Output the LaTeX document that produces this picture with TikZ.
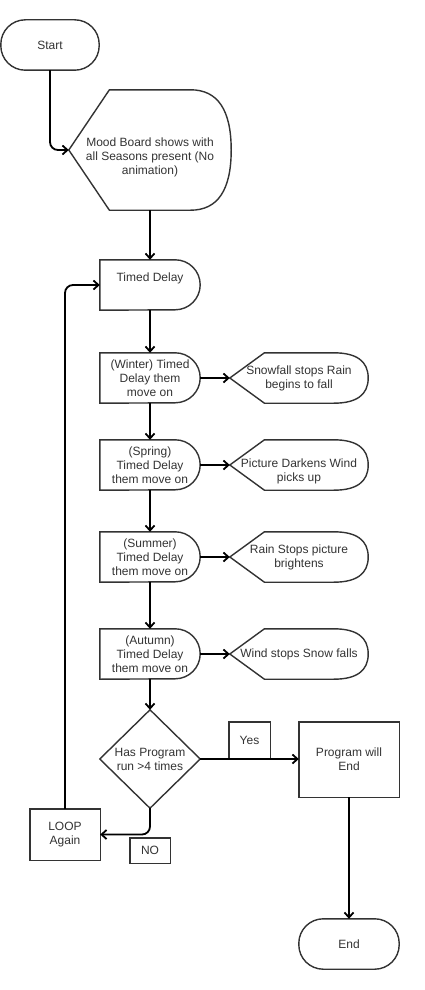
\documentclass[tikz,border=0pt]{standalone}
\usepackage{fontspec}
\setmainfont{Liberation Sans}
\usetikzlibrary{arrows.meta,calc}
\definecolor{ink}{HTML}{333333}
\tikzset{
  box/.style={rectangle,draw=none,inner sep=0pt,align=center,text=ink,font=\fontsize{12}{14}\selectfont},
  outl/.style={draw=ink,line width=1.4pt},
  conn/.style={draw=black,line width=1.8pt,-{Straight Barb[length=5pt,width=9pt]},rounded corners=8pt},
}
\newcommand\fcdelay[1]{\draw[outl] (#1.north west) -- ([xshift=-25pt]#1.north east) arc[start angle=90,end angle=-90,radius=25pt] -- (#1.south west) -- cycle;}
\newcommand\fcdisplay[1]{\draw[outl] (#1.west) -- ($(#1.north west)!0.25!(#1.north east)$) -- ($(#1.north west)!0.75!(#1.north east)$)
  .. controls ($(#1.north west)!0.9167!(#1.north east)$) and ($(#1.north east)!0.3333!(#1.east)$) .. (#1.east)
  .. controls ($(#1.south east)!0.3333!(#1.east)$) and ($(#1.south west)!0.9167!(#1.south east)$) .. ($(#1.south west)!0.75!(#1.south east)$)
  -- ($(#1.south west)!0.25!(#1.south east)$) -- cycle;}
\newcommand\fcterm[1]{\draw[outl,rounded corners=24.5pt] (#1.north west) rectangle (#1.south east);}
\newcommand\fcrect[1]{\draw[outl] (#1.north west) rectangle (#1.south east);}
\begin{document}
\begin{tikzpicture}[x=1pt,y=-1pt]
\useasboundingbox (0,0) rectangle (425,990);
% nodes
\node[box,minimum width=98pt,minimum height=50pt] (start) at (50,45) {Start};
\node[box,minimum width=162pt,minimum height=120pt,label={[box,yshift=-7pt]center:{Mood Board shows with\\all Seasons present (No\\animation)}}] (mood) at (150,150) {};
\node[box,minimum width=100pt,minimum height=50pt,label={[box,yshift=7pt]center:Timed Delay}] (td) at (150,285) {};
\node[box,minimum width=100pt,minimum height=50pt] (winter) at (150,378) {(Winter) Timed\\Delay them\\move on};
\node[box,minimum width=138pt,minimum height=50pt] (snow) at (299,378) {Snowfall stops Rain\\begins to fall};
\node[box,minimum width=100pt,minimum height=50pt] (spring) at (150,465) {(Spring)\\Timed Delay\\them move on};
\node[box,minimum width=138pt,minimum height=50pt,label={[box,yshift=-6pt]center:{Picture Darkens Wind\\picks up}}] (dark) at (299,465) {};
\node[box,minimum width=100pt,minimum height=50pt] (summer) at (150,557) {(Summer)\\Timed Delay\\them move on};
\node[box,minimum width=138pt,minimum height=50pt] (rain) at (299,557) {Rain Stops picture\\brightens};
\node[box,minimum width=100pt,minimum height=50pt] (autumn) at (150,654) {(Autumn)\\Timed Delay\\them move on};
\node[box,minimum width=138pt,minimum height=50pt] (wind) at (299,654) {Wind stops Snow falls};
\node[box,minimum width=100pt,minimum height=98pt] (dec) at (150,759) {Has Program\\run >4 times};
\node[box,minimum width=41pt,minimum height=36pt] (yes) at (249.5,740) {Yes};
\node[box,minimum width=100pt,minimum height=75pt] (pend) at (349,759.5) {Program will\\End};
\node[box,minimum width=100pt,minimum height=50pt] (endn) at (349,944) {End};
\node[box,minimum width=70pt,minimum height=51pt] (loop) at (65,834.5) {LOOP\\Again};
\node[box,minimum width=40pt,minimum height=25pt] (no) at (150,850.5) {NO};
% outlines
\fcterm{start}
\fcdisplay{mood}
\fcdelay{td}
\fcdelay{winter}
\fcdisplay{snow}
\fcdelay{spring}
\fcdisplay{dark}
\fcdelay{summer}
\fcdisplay{rain}
\fcdelay{autumn}
\fcdisplay{wind}
\draw[outl] (dec.north) -- (dec.east) -- (dec.south) -- (dec.west) -- cycle;
\fcrect{yes}
\fcrect{pend}
\fcterm{endn}
\fcrect{loop}
\fcrect{no}
% connectors
\draw[conn] (start.south) |- (mood.west);
\draw[conn] (mood.south) -- (td.north);
\draw[conn] (td.south) -- (winter.north);
\draw[conn] (winter.south) -- (spring.north);
\draw[conn] (spring.south) -- (summer.north);
\draw[conn] (summer.south) -- (autumn.north);
\draw[conn] (autumn.south) -- (dec.north);
\draw[conn] (winter.east) -- (snow.west);
\draw[conn] (spring.east) -- (dark.west);
\draw[conn] (summer.east) -- (rain.west);
\draw[conn] (autumn.east) -- (wind.west);
\draw[conn] (dec.east) -- (dec.east -| pend.west);
\draw[conn] (pend.south) -- (endn.north);
\draw[conn] (dec.south) |- (loop.east);
\draw[conn] (loop.north) |- (td.west);
\end{tikzpicture}
\end{document}
